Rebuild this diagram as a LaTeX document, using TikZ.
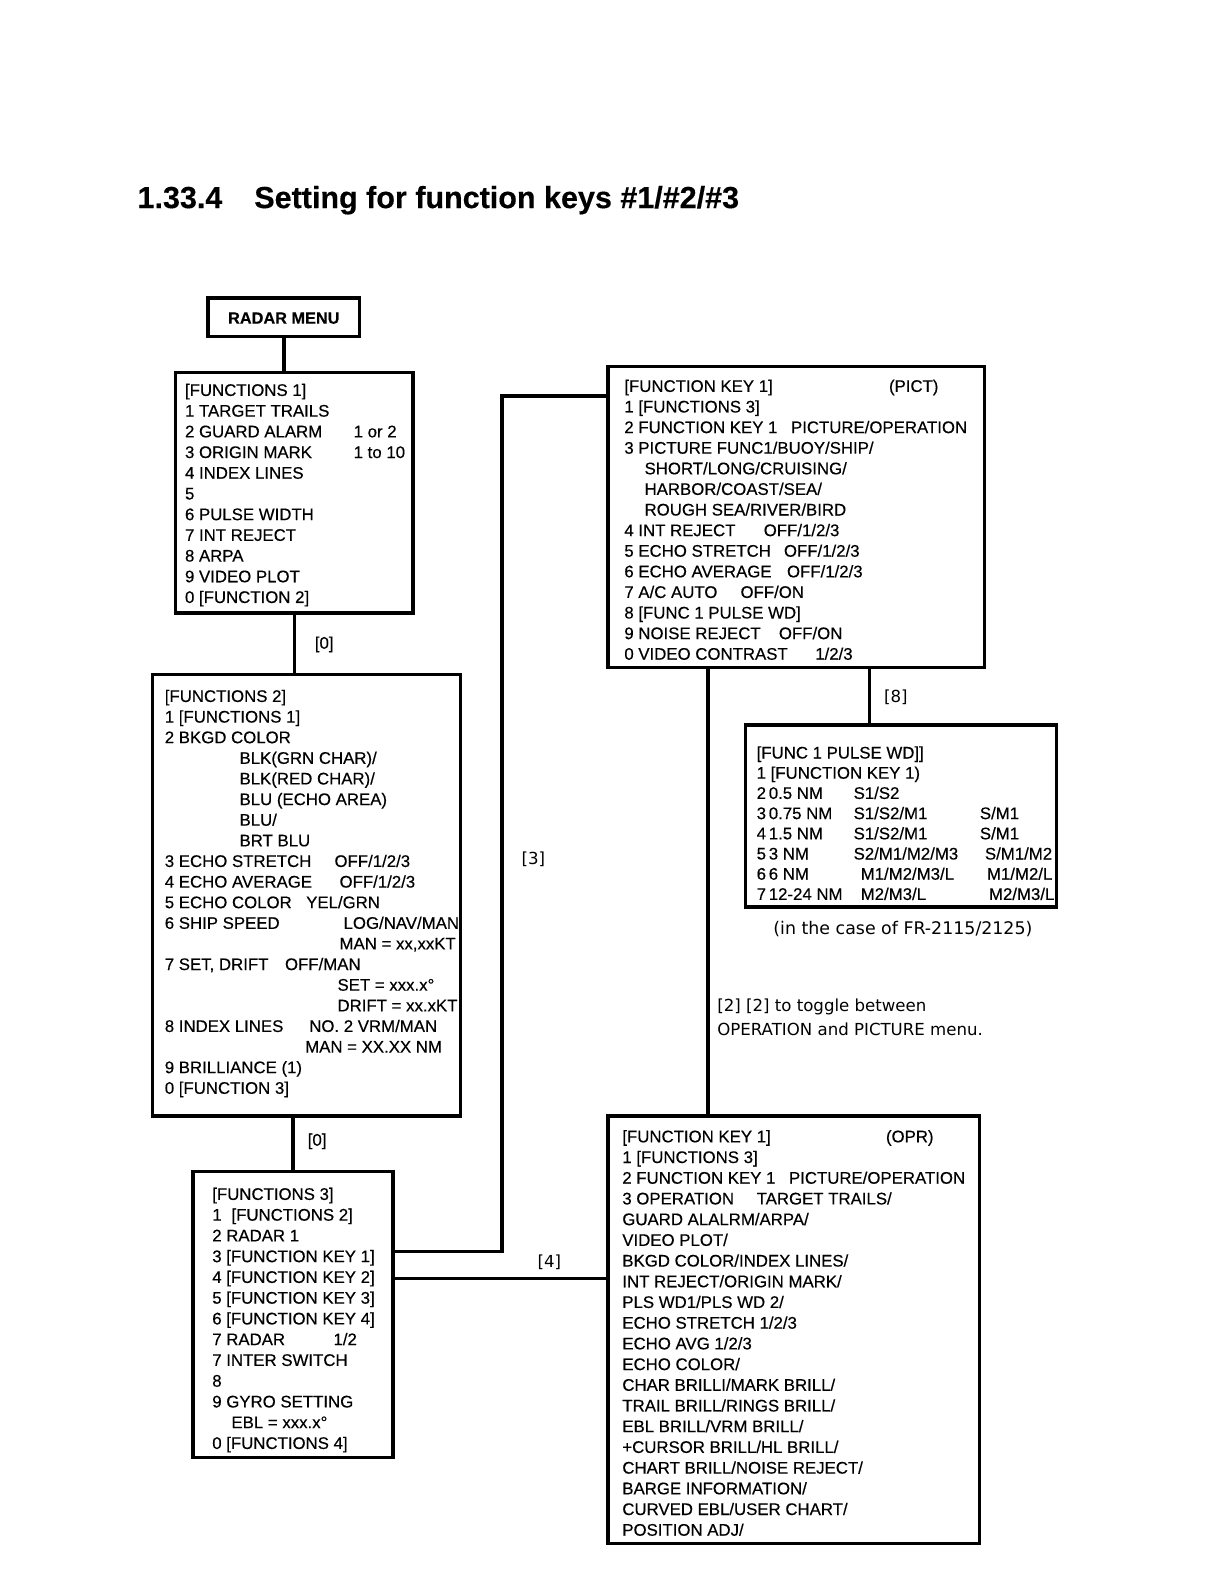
\documentclass[tikz,border=0pt]{standalone}
\usepackage{fontspec}
\setmainfont[FakeBold=0.35]{Liberation Sans}
\newfontfamily\capfont{DejaVu Sans}
\tikzset{
  x=1.01pt, y=-1.01pt,
  menubox/.style={draw, line width=3.4pt, rectangle, inner sep=0pt, outer sep=0pt},
  conn/.style={line width=3.4pt, line join=miter, line cap=butt},
  txt/.style={anchor=base west, inner sep=0pt, font=\fontsize{16.8}{20}\selectfont},
  lbl/.style={anchor=center, inner sep=0pt, font=\fontsize{16.8}{20}\selectfont},
  note/.style={anchor=base west, inner sep=0pt, font=\capfont\fontsize{16.6}{20}\selectfont},
}
% box from (x1,y1) to (x2,y2)
\newcommand\menubx[5]{\node[menubox, minimum width={1.01*(#4pt-#2pt)}, minimum height={1.01*(#5pt-#3pt)}] (#1) at ({(#2+#4)/2},{(#3+#5)/2}) {};}
% line: name, x, index, text (uses \bb and \ls)
\newcommand\ml[4]{\node[txt] (#1) at (#2,{\bb+\ls*#3}) {#4};}
\begin{document}
\begin{tikzpicture}
\useasboundingbox (0,0) rectangle (1211.88,1568.32);
\fill[white] (0,0) rectangle (1211.88,1568.32);

% title
\node[anchor=base west, inner sep=0pt, font=\bfseries\fontsize{30.5}{36}\selectfont] (title) at (136,206) {1.33.4\hspace{32pt}Setting for function keys \#1/\#2/\#3};

% RADAR MENU
\menubx{rm}{206}{295}{356}{333}
\node[font=\bfseries\fontsize{16.3}{20}\selectfont, inner sep=0pt] (rmt) at (281,315) {RADAR MENU};

% FUNCTIONS 1
\def\bb{392}\def\ls{20.5}
\ml{f1a}{183}{0}{[FUNCTIONS 1]}
\ml{f1b}{183}{1}{1 TARGET TRAILS}
\ml{f1c}{183}{2}{2 GUARD ALARM}
\ml{f1cc}{350}{2}{1 or 2}
\ml{f1d}{183}{3}{3 ORIGIN MARK}
\ml{f1dd}{350}{3}{1 to 10}
\ml{f1e}{183}{4}{4 INDEX LINES}
\ml{f1f}{183}{5}{5}
\ml{f1g}{183}{6}{6 PULSE WIDTH}
\ml{f1h}{183}{7}{7 INT REJECT}
\ml{f1i}{183}{8}{8 ARPA}
\ml{f1j}{183}{9}{9 VIDEO PLOT}
\ml{f1k}{183}{10}{0 [FUNCTION 2]}
\menubx{f1}{174}{369}{409}{607}

% FUNCTIONS 2
\begin{scope}
\clip (151,668) rectangle (456,1105);
\def\bb{695}\def\ls{20.42}
\ml{f2a}{163}{0}{[FUNCTIONS 2]}
\ml{f2b}{163}{1}{1 [FUNCTIONS 1]}
\ml{f2c}{163}{2}{2 BKGD COLOR}
\ml{f2d}{237}{3}{BLK(GRN CHAR)/}
\ml{f2e}{237}{4}{BLK(RED CHAR)/}
\ml{f2f}{237}{5}{BLU (ECHO AREA)}
\ml{f2g}{237}{6}{BLU/}
\ml{f2h}{237}{7}{BRT BLU}
\ml{f2i}{163}{8}{3 ECHO STRETCH}
\ml{f2ii}{331}{8}{OFF/1/2/3}
\ml{f2j}{163}{9}{4 ECHO AVERAGE}
\ml{f2jj}{336}{9}{OFF/1/2/3}
\ml{f2k}{163}{10}{5 ECHO COLOR}
\ml{f2kk}{303}{10}{YEL/GRN}
\ml{f2l}{163}{11}{6 SHIP SPEED}
\ml{f2ll}{340}{11}{LOG/NAV/MAN}
\ml{f2m}{336}{12}{MAN = xx,xxKT}
\ml{f2n}{163}{13}{7 SET, DRIFT}
\ml{f2nn}{282}{13}{OFF/MAN}
\ml{f2o}{334}{14}{SET = xxx.x°}
\ml{f2p}{334}{15}{DRIFT = xx.xKT}
\ml{f2q}{163}{16}{8 INDEX LINES}
\ml{f2qq}{306}{16}{NO. 2 VRM/MAN}
\ml{f2r}{302}{17}{MAN = XX.XX NM}
\ml{f2s}{163}{18}{9 BRILLIANCE (1)}
\ml{f2t}{163}{19}{0 [FUNCTION 3]}
\end{scope}
\menubx{f2}{151}{668}{456}{1105}

% FUNCTIONS 3
\def\bb{1188}\def\ls{20.55}
\ml{f3a}{210}{0}{[FUNCTIONS 3]}
\ml{f3b}{210}{1}{1}
\ml{f3bb}{229}{1}{[FUNCTIONS 2]}
\ml{f3c}{210}{2}{2 RADAR 1}
\ml{f3d}{210}{3}{3 [FUNCTION KEY 1]}
\ml{f3e}{210}{4}{4 [FUNCTION KEY 2]}
\ml{f3f}{210}{5}{5 [FUNCTION KEY 3]}
\ml{f3g}{210}{6}{6 [FUNCTION KEY 4]}
\ml{f3h}{210}{7}{7 RADAR}
\ml{f3hh}{330}{7}{1/2}
\ml{f3i}{210}{8}{7 INTER SWITCH}
\ml{f3j}{210}{9}{8}
\ml{f3k}{210}{10}{9 GYRO SETTING}
\ml{f3l}{229}{11}{EBL = xxx.x°}
\ml{f3m}{210}{12}{0 [FUNCTIONS 4]}
\menubx{f3}{191}{1160}{389}{1443}

% FUNCTION KEY 1 (PICT)
\def\bb{388}\def\ls{20.4}
\ml{pa}{618}{0}{[FUNCTION KEY 1]}
\ml{paa}{880}{0}{(PICT)}
\ml{pb}{618}{1}{1 [FUNCTIONS 3]}
\ml{pc}{618}{2}{2 FUNCTION KEY 1}
\ml{pcc}{783}{2}{PICTURE/OPERATION}
\ml{pd}{618}{3}{3 PICTURE FUNC1/BUOY/SHIP/}
\ml{pe}{638}{4}{SHORT/LONG/CRUISING/}
\ml{pf}{638}{5}{HARBOR/COAST/SEA/}
\ml{pg}{638}{6}{ROUGH SEA/RIVER/BIRD}
\ml{ph}{618}{7}{4 INT REJECT}
\ml{phh}{756}{7}{OFF/1/2/3}
\ml{pi}{618}{8}{5 ECHO STRETCH}
\ml{pii}{776}{8}{OFF/1/2/3}
\ml{pj}{618}{9}{6 ECHO AVERAGE}
\ml{pjj}{779}{9}{OFF/1/2/3}
\ml{pk}{618}{10}{7 A/C AUTO}
\ml{pkk}{733}{10}{OFF/ON}
\ml{pl}{618}{11}{8 [FUNC 1 PULSE WD]}
\ml{pm}{618}{12}{9 NOISE REJECT}
\ml{pmm}{771}{12}{OFF/ON}
\ml{pn}{618}{13}{0 VIDEO CONTRAST}
\ml{pnn}{807}{13}{1/2/3}
\menubx{pict}{602}{363}{975}{661}

% FUNC 1 PULSE WD
\begin{scope}
\clip (738,718) rectangle (1046,898);
\def\bb{751}\def\ls{20}
\ml{wa}{749}{0}{[FUNC 1 PULSE WD]]}
\ml{wb}{749}{1}{1 [FUNCTION KEY 1)}
\ml{wc}{749}{2}{2\,0.5 NM}
\ml{wcc}{845}{2}{S1/S2}
\ml{wd}{749}{3}{3\,0.75 NM}
\ml{wdd}{845}{3}{S1/S2/M1}
\ml{wddd}{970}{3}{S/M1}
\ml{we}{749}{4}{4\,1.5 NM}
\ml{wee}{845}{4}{S1/S2/M1}
\ml{weee}{970}{4}{S/M1}
\ml{wf}{749}{5}{5\,3 NM}
\ml{wff}{845}{5}{S2/M1/M2/M3}
\ml{wfff}{975}{5}{S/M1/M2}
\ml{wg}{749}{6}{6\,6 NM}
\ml{wgg}{852}{6}{M1/M2/M3/L}
\ml{wggg}{977}{6}{M1/M2/L}
\ml{wh}{749}{7}{7\,12-24 NM}
\ml{whh}{852}{7}{M2/M3/L}
\ml{whhh}{979}{7}{M2/M3/L}
\end{scope}
\menubx{pulse}{738}{718}{1046}{898}
\node[anchor=base, inner sep=0pt, font=\capfont\fontsize{17.4}{20}\selectfont] (cap) at (894,925) {(in the case of FR-2115/2125)};

% FUNCTION KEY 1 (OPR)
\def\bb{1131}\def\ls{20.5}
\ml{oa}{616}{0}{[FUNCTION KEY 1]}
\ml{oaa}{877}{0}{(OPR)}
\ml{ob}{616}{1}{1 [FUNCTIONS 3]}
\ml{oc}{616}{2}{2 FUNCTION KEY 1}
\ml{occ}{781}{2}{PICTURE/OPERATION}
\ml{od}{616}{3}{3 OPERATION}
\ml{odd}{749}{3}{TARGET TRAILS/}
\ml{oe}{616}{4}{GUARD ALALRM/ARPA/}
\ml{of}{616}{5}{VIDEO PLOT/}
\ml{og}{616}{6}{BKGD COLOR/INDEX LINES/}
\ml{oh}{616}{7}{INT REJECT/ORIGIN MARK/}
\ml{oi}{616}{8}{PLS WD1/PLS WD 2/}
\ml{oj}{616}{9}{ECHO STRETCH 1/2/3}
\ml{ok}{616}{10}{ECHO AVG 1/2/3}
\ml{ol}{616}{11}{ECHO COLOR/}
\ml{om}{616}{12}{CHAR BRILLI/MARK BRILL/}
\ml{on}{616}{13}{TRAIL BRILL/RINGS BRILL/}
\ml{oo}{616}{14}{EBL BRILL/VRM BRILL/}
\ml{op}{616}{15}{+CURSOR BRILL/HL BRILL/}
\ml{oq}{616}{16}{CHART BRILL/NOISE REJECT/}
\ml{or}{616}{17}{BARGE INFORMATION/}
\ml{os}{616}{18}{CURVED EBL/USER CHART/}
\ml{ot}{616}{19}{POSITION ADJ/}
\menubx{opr}{602}{1105}{970}{1528}

% connector coordinates
\coordinate (k3) at (497,1239);
\coordinate (k3t) at (497,392);
\coordinate (k4) at (540,1266);
\coordinate (k2) at (701,800);
\coordinate (k8) at (861,690);

% connectors
\draw[conn] (rm.south) -- (rm.south |- f1.north);
\draw[conn] (f1.south) -- (f1.south |- f2.north);
\draw[conn] (f3.north) -- (f3.north |- f2.south);
\draw[conn] (f3.east |- k3) -- (k3) -- (k3t) -- (pict.west |- k3t);
\draw[conn] (f3.east |- k4) -- (opr.west |- k4);
\draw[conn] (pict.south -| k2) -- (opr.north -| k2);
\draw[conn] (pict.south -| k8) -- (pulse.north -| k8);

% labels
\node[lbl] (l0a) at (321,638) {[0]};
\node[lbl] (l0b) at (314,1130) {[0]};
\node[lbl, font=\capfont\fontsize{16.6}{20}\selectfont] (l3) at (528,851) {[3]};
\node[lbl, font=\capfont\fontsize{16.6}{20}\selectfont] (l4) at (544,1250) {[4]};
\node[lbl, font=\capfont\fontsize{16.6}{20}\selectfont] (l8) at (887,690) {[8]};
\node[note] (tg1) at (710,1001) {[2] [2] to toggle between};
\node[note] (tg2) at (710,1025) {OPERATION and PICTURE menu.};
\end{tikzpicture}
\end{document}
